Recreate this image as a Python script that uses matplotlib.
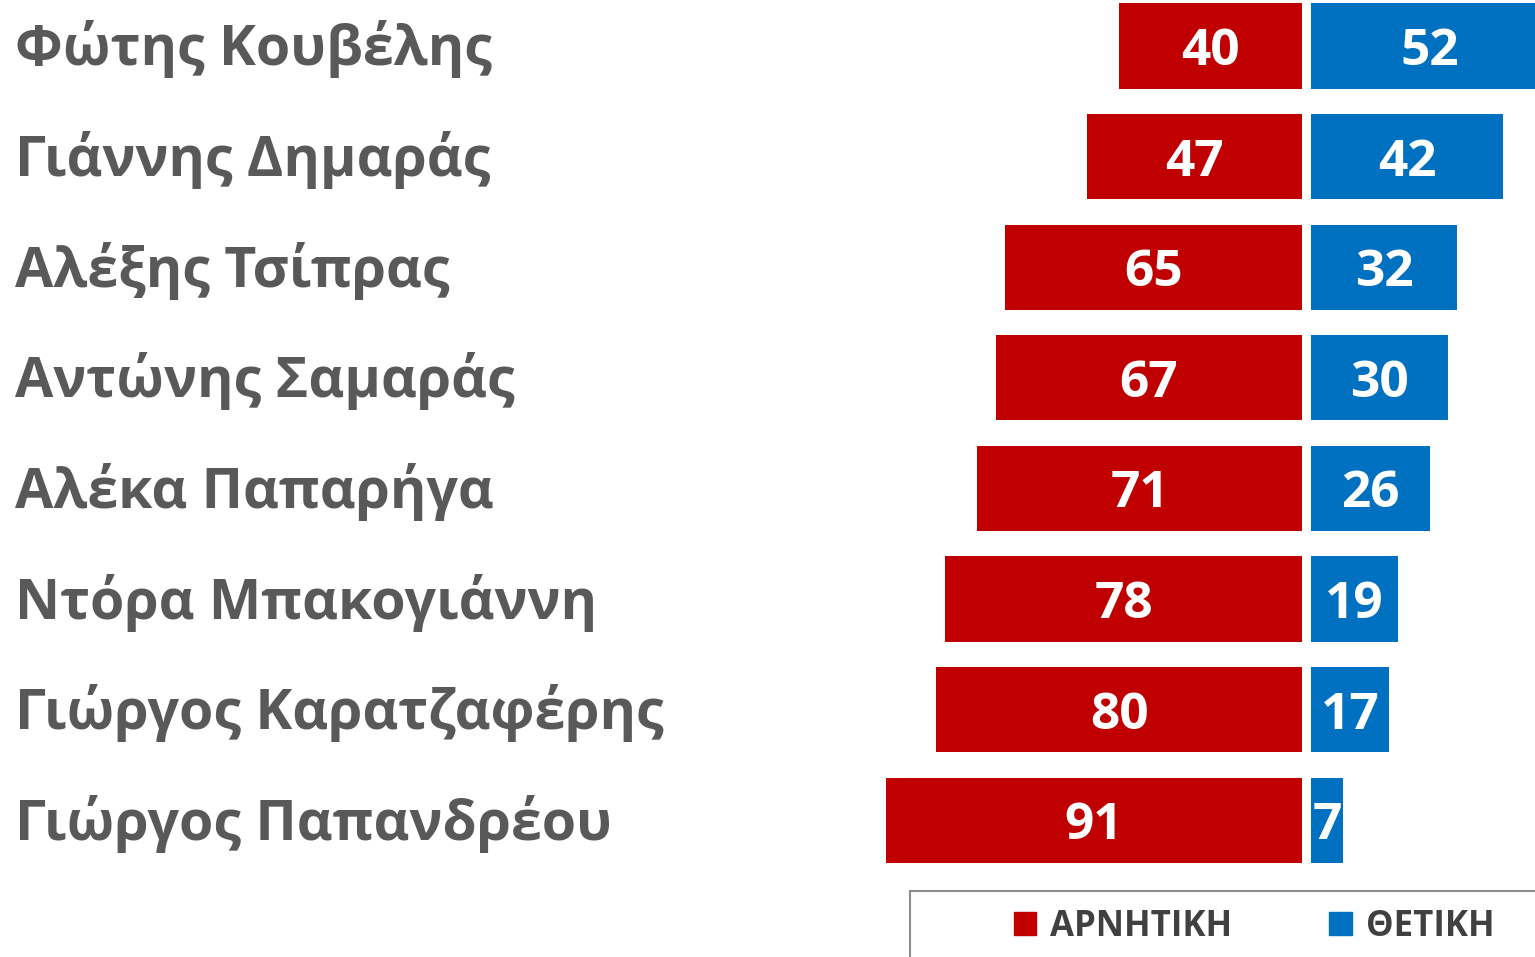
import matplotlib
matplotlib.use("Agg")
import matplotlib.pyplot as plt
from matplotlib.patches import Rectangle
from matplotlib.transforms import offset_copy
import numpy as np

names = ["Φώτης Κουβέλης", "Γιάννης Δημαράς", "Αλέξης Τσίπρας", "Αντώνης Σαμαράς",
         "Αλέκα Παπαρήγα", "Ντόρα Μπακογιάννη", "Γιώργος Καρατζαφέρης",
         "Γιώργος Παπανδρέου"]
negative = [40, 47, 65, 67, 71, 78, 80, 91]
positive = [52, 42, 32, 30, 26, 19, 17, 7]
series_labels = ["ΑΡΝΗΤΙΚΗ", "ΘΕΤΙΚΗ"]

RED, BLUE = "#C00000", "#0070C0"
NAME_C, LEG_C = "#595959", "#404040"
FONT = ["Open Sans", "DejaVu Sans"]

W, H, DPI = 1535, 957, 100
fig = plt.figure(figsize=(W / DPI, H / DPI), dpi=DPI)
ax = fig.add_axes([0, 0, 1, 1])
ax.set_axis_off()

# pixel geometry -> data limits
px_per_unit = 4.57
zero_px = 1306.5
ax.set_xlim(-zero_px / px_per_unit, (W - zero_px) / px_per_unit)
row_px, first_px = 110.6, 46
ax.set_ylim((H - first_px) / row_px, -first_px / row_px)

gap = 1.0
y = np.arange(len(names))
ax.barh(y, [-v for v in negative], left=-gap, height=0.77, color=RED)
ax.barh(y, positive, left=gap, height=0.77, color=BLUE)

for i, (n, p) in enumerate(zip(negative, positive)):
    ax.text(-gap - n / 2, i, str(n), ha="center", va="center_baseline",
            color="white", fontsize=37, fontweight="bold", family=FONT)
    ax.text(gap + p / 2, i, str(p), ha="center", va="center_baseline",
            color="white", fontsize=37, fontweight="bold", family=FONT)

# names, nudged up a few pixels
name_tr = offset_copy(ax.transData, fig=fig, x=0, y=3, units="dots")
x_name = ax.get_xlim()[0] + 15 / px_per_unit
for i, nm in enumerate(names):
    ax.text(x_name, i, nm, ha="left", va="center_baseline", color=NAME_C,
            fontsize=40, fontweight="bold", family=FONT, transform=name_tr)

# legend box (extends past the canvas edge)
fig.patches.append(Rectangle((910 / W, -0.05), 1.0, 1 - 891 / H + 0.05,
                             transform=fig.transFigure, fill=False,
                             edgecolor="#8c8c8c", lw=1.5))
handles = [Rectangle((0, 0), 1, 1, color=c) for c in (RED, BLUE)]
leg = fig.legend(handles, series_labels, loc="center",
                 bbox_to_anchor=(1254 / W, 1 - 927 / H), ncol=2,
                 frameon=False, handlelength=0.65, handleheight=0.65,
                 handletextpad=0.4, columnspacing=2.8,
                 prop={"family": FONT, "weight": "bold", "size": 25})
for t in leg.get_texts():
    t.set_color(LEG_C)

fig.savefig("out.png", dpi=DPI)
